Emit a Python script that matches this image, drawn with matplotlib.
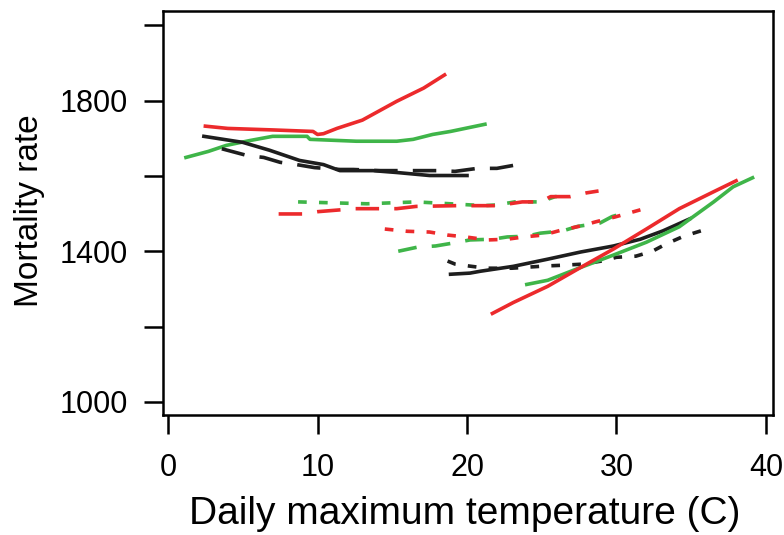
import matplotlib
matplotlib.use("Agg")
import matplotlib.pyplot as plt

plt.rcParams['font.family'] = ['Liberation Sans', 'DejaVu Sans']

RED = '#ec2a2c'
GREEN = '#3fb549'
BLACK = '#1e1e1e'

# top group (cool city)
red_top_x = [2.5, 4.0, 7.0, 9.7, 10.0, 10.4, 11.3, 13.0, 15.3, 17.1, 18.5]
red_top_y = [1732, 1726, 1722, 1718, 1710, 1712, 1726, 1748, 1798, 1833, 1868]
green_top_x = [1.2, 2.7, 3.9, 5.5, 7.0, 9.3, 9.5, 12.6, 15.3, 16.4, 17.7, 18.9, 21.2]
green_top_y = [1649, 1665, 1681, 1694, 1705, 1705, 1697, 1692, 1692, 1697, 1710, 1718, 1737]
black_top_x = [2.4, 5.0, 6.8, 8.8, 10.4, 11.5, 13.7, 15.3, 17.5, 20.0]
black_top_y = [1705, 1689, 1668, 1641, 1630, 1614, 1614, 1609, 1601, 1601]
black_top_dash_x = [3.6, 5.3, 6.4, 7.5, 8.6, 9.8, 11.5, 12.4, 14.2, 16.4, 18.0, 19.2, 20.7, 22.0, 23.4]
black_top_dash_y = [1672, 1654, 1649, 1636, 1630, 1622, 1617, 1617, 1614, 1614, 1614, 1612, 1620, 1620, 1630]

# middle dashed group
red_mid_x = [7.4, 9.0, 10.0, 12.5, 14.0, 15.3, 16.6, 19.3, 22.0, 23.7, 24.9, 25.6, 26.9, 28.0, 28.8]
red_mid_y = [1499, 1499, 1505, 1513, 1513, 1513, 1519, 1521, 1521, 1531, 1531, 1545, 1545, 1555, 1560]
green_mid_x = [8.7, 13.3, 16.6, 18.9, 21.1, 22.0, 23.2, 24.9, 25.9, 26.6]
green_mid_y = [1531, 1526, 1531, 1526, 1521, 1523, 1531, 1531, 1545, 1545]

# lower dashed group
red_low_x = [14.5, 16.0, 17.5, 18.7, 19.9, 21.4, 22.7, 23.8, 25.1, 26.3, 27.6, 28.6, 29.9, 31.6]
red_low_y = [1459, 1453, 1451, 1443, 1438, 1430, 1432, 1438, 1443, 1456, 1467, 1478, 1491, 1510]
green_low_x = [15.4, 16.7, 17.9, 19.1, 20.2, 21.7, 22.7, 24.0, 24.9, 26.4, 27.4, 28.9, 29.7, 30.8]
green_low_y = [1400, 1411, 1414, 1422, 1430, 1432, 1438, 1440, 1448, 1454, 1466, 1475, 1492, 1505]

# bottom group (hot city)
black_bot_x = [18.9, 20.2, 20.9, 23.1, 25.4, 27.6, 29.8, 31.6, 33.1, 34.9]
black_bot_y = [1339, 1342, 1347, 1360, 1379, 1398, 1414, 1432, 1454, 1486]
black_bot_dot_x = [18.7, 19.2, 20.1, 21.3, 23.0, 25.3, 26.5, 27.8, 29.0, 30.0, 31.3, 32.4, 33.3, 34.5, 35.8]
black_bot_dot_y = [1374, 1366, 1361, 1355, 1355, 1361, 1363, 1366, 1374, 1384, 1387, 1400, 1419, 1440, 1456]
red_bot_x = [21.7, 23.1, 25.4, 27.6, 29.8, 32.0, 34.2, 36.5, 38.0]
red_bot_y = [1235, 1264, 1307, 1357, 1406, 1459, 1513, 1558, 1587]
green_bot_x = [24.0, 25.4, 27.6, 29.8, 32.0, 34.2, 36.5, 37.8, 39.1]
green_bot_y = [1312, 1323, 1357, 1390, 1424, 1465, 1531, 1571, 1595]

x_ticks = [0, 10, 20, 30, 40]
y_ticks = [1000, 1200, 1400, 1600, 1800, 2000]
y_ticklabels = ['1000', '', '1400', '', '1800', '']

LW = 2.6
LONG = (0, (6.5, 4.2))
SHORT = (0, (2.4, 3.4))
MED = (0, (5.2, 4.2))

fig = plt.figure(figsize=(7.84, 5.35), dpi=100)
ax = fig.add_axes([0.208, 0.224, 0.778, 0.755])

ax.plot(green_top_x, green_top_y, color=GREEN, lw=LW)
ax.plot(red_top_x, red_top_y, color=RED, lw=LW)
ax.plot(black_top_x, black_top_y, color=BLACK, lw=LW)
ax.plot(black_top_dash_x, black_top_dash_y, color=BLACK, lw=LW, linestyle=LONG)

ax.plot(green_mid_x, green_mid_y, color=GREEN, lw=LW, linestyle=SHORT)
ax.plot(red_mid_x, red_mid_y, color=RED, lw=LW, linestyle=LONG)

ax.plot(green_low_x, green_low_y, color=GREEN, lw=LW, linestyle=MED)
ax.plot(red_low_x, red_low_y, color=RED, lw=LW, linestyle=SHORT)

ax.plot(black_bot_x, black_bot_y, color=BLACK, lw=LW)
ax.plot(black_bot_dot_x, black_bot_dot_y, color=BLACK, lw=LW, linestyle=SHORT)
ax.plot(green_bot_x, green_bot_y, color=GREEN, lw=LW)
ax.plot(red_bot_x, red_bot_y, color=RED, lw=LW)

ax.set_xlim(-0.33, 40.47)
ax.set_ylim(965, 2037)
ax.set_xticks(x_ticks)
ax.set_yticks(y_ticks)
ax.set_yticklabels(y_ticklabels)

for s in ax.spines.values():
    s.set_linewidth(1.8)
ax.tick_params(axis='both', direction='out', length=14, width=1.8, labelsize=22)
ax.tick_params(axis='y', pad=11)
ax.tick_params(axis='x', pad=13)

fig.text(0.593, 0.039, 'Daily maximum temperature (C)', ha='center', va='center', fontsize=28)
fig.text(0.038, 0.607, 'Mortality rate', ha='center', va='center', rotation=90, fontsize=24)

fig.savefig('out.png', dpi=100)
